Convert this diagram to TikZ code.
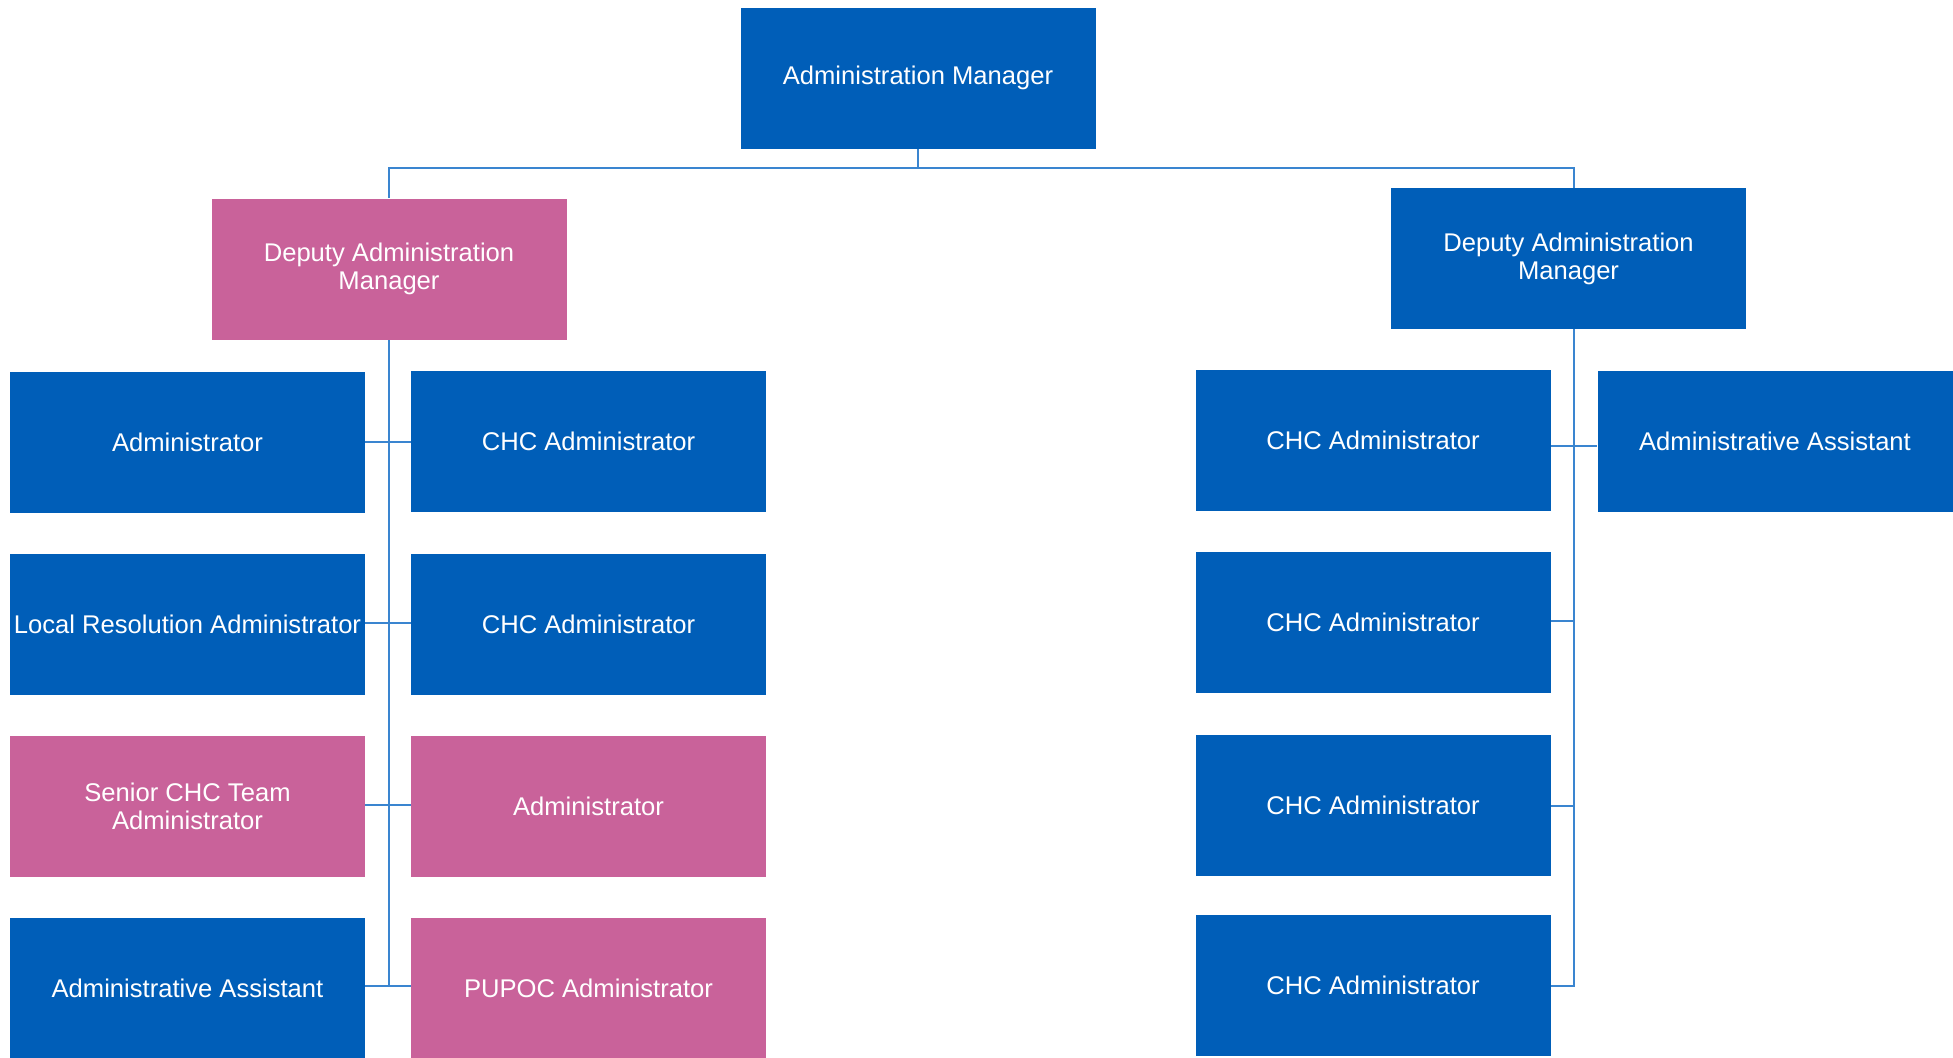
\documentclass[tikz,border=0pt]{standalone}
\usepackage{fontspec}
\setmainfont{Liberation Sans}
\usetikzlibrary{backgrounds}
\definecolor{nhsblue}{HTML}{005EB8}
\definecolor{nhspink}{HTML}{C9629A}
\definecolor{linkblue}{HTML}{3A85D0}
\begin{document}
\begin{tikzpicture}[x=0.5pt,y=-0.5pt,
  box/.style={rectangle, inner sep=0pt, minimum width=177.5pt, minimum height=70.5pt,
    text=white, align=center, font=\fontsize{12.8}{14}\selectfont},
  bluebox/.style={box, fill=nhsblue},
  pinkbox/.style={box, fill=nhspink},
  link/.style={draw=linkblue, line width=0.9pt}]
\useasboundingbox (0,0) rectangle (1953,1057);

\node[bluebox] (top) at (918,78) {Administration Manager};
\node[pinkbox] (LD) at (389,269) {Deputy Administration\\Manager};
\node[bluebox] (RD) at (1568.5,258.5) {Deputy Administration\\Manager};

\node[bluebox] (L1) at (187.5,442.5) {Administrator};
\node[bluebox] (L2) at (187.5,624.5) {Local Resolution Administrator};
\node[pinkbox] (L3) at (187.5,806) {Senior CHC Team\\Administrator};
\node[bluebox] (L4) at (187.5,988.5) {Administrative Assistant};

\node[bluebox] (C1) at (588.5,441.5) {CHC Administrator};
\node[bluebox] (C2) at (588.5,624.5) {CHC Administrator};
\node[pinkbox] (C3) at (588.5,806) {Administrator};
\node[pinkbox] (C4) at (588.5,988.5) {PUPOC Administrator};

\node[bluebox] (R1) at (1373,440) {CHC Administrator};
\node[bluebox] (R2) at (1373,622) {CHC Administrator};
\node[bluebox] (R3) at (1373,805.5) {CHC Administrator};
\node[bluebox] (R4) at (1373,985.5) {CHC Administrator};
\node[bluebox] (RA) at (1775,441.5) {Administrative Assistant};

\begin{scope}[on background layer]
\fill[white] (0,0) rectangle (1953,1057);
% top connectors
\coordinate (jt) at (918,168);
\coordinate (rtop) at (1574,168);
\coordinate (rbot) at (1574,300);
\draw[link] (top.south) -- (jt);
\draw[link] (LD.north) |- (jt) -- (rtop) -- (rbot);

% left spine
\coordinate (lend) at (389,986);
\draw[link] (LD.south) -- (lend);
\draw[link] (L1.east |- 0,442) -- (C1.west |- 0,442);
\draw[link] (L2.east |- 0,623) -- (C2.west |- 0,623);
\draw[link] (L3.east |- 0,805) -- (C3.west |- 0,805);
\draw[link] (L4.east |- lend) -- (C4.west |- lend);

% right spine
\coordinate (rend) at (1574,986);
\draw[link] (rbot) -- (rend) -- (R4.east |- rend);
\draw[link] (R1.east |- 0,446) -- (RA.west |- 0,446);
\draw[link] (R2.east |- 0,621) -- (rend |- 0,621);
\draw[link] (R3.east |- 0,806) -- (rend |- 0,806);
\end{scope}
\end{tikzpicture}
\end{document}
